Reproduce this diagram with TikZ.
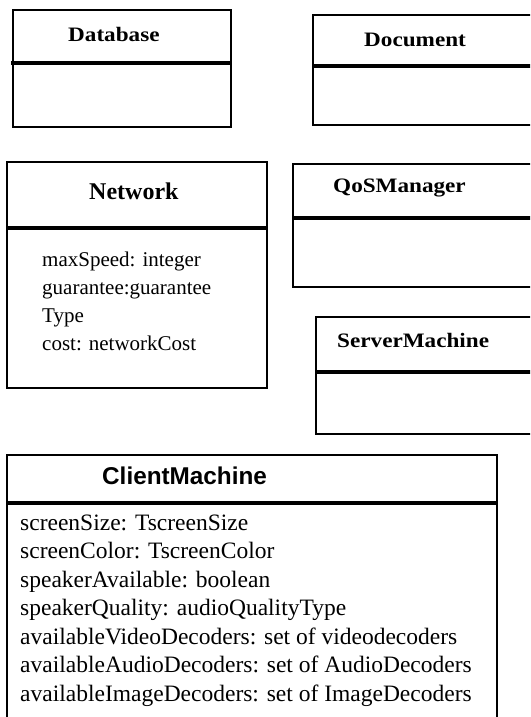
\documentclass[tikz,border=0pt]{standalone}
\usepackage{fontspec}
\setmainfont{Liberation Serif}
\newfontfamily\arialfont{Liberation Sans}
\begin{document}
\begin{tikzpicture}[x=1pt,y=-1pt,
  boxline/.style={line width=2.6pt},
  divline/.style={line width=3.1pt},
  ttl/.style={inner sep=0pt,anchor=base west,font=\fontsize{20.5}{24}\selectfont\bfseries,xscale=1.13},
  ttlbig/.style={inner sep=0pt,anchor=base west,font=\fontsize{24}{28}\selectfont\bfseries},
  attr/.style={inner sep=0pt,anchor=base west,font=\fontsize{21}{25}\selectfont},
  cattr/.style={inner sep=0pt,anchor=base west,font=\fontsize{23.5}{28}\selectfont}]
\useasboundingbox (0,0) rectangle (530,717);
\clip (0,0) rectangle (530,717);
% Database
\draw[boxline] (13,10) rectangle (231,127);
\draw[divline] (11,63) -- (231,63);
\node[ttl] (db) at (68,42) {Database};
% Document
\draw[boxline] (313,15) rectangle (545,125);
\draw[divline] (313,66) -- (545,66);
\node[ttl] (doc) at (364,47) {Document};
% Network
\draw[boxline] (7,162) rectangle (267,388);
\draw[divline] (7,228) -- (267,228);
\node[ttlbig] (net) at (89,199) {Network};
\node[attr] (n1) at (42,266) {maxSpeed: integer};
\node[attr] (n2) at (42,294) {guarantee:guarantee};
\node[attr] (n3) at (42,322) {Type};
\node[attr] (n4) at (42,350) {cost: networkCost};
% QoSManager
\draw[boxline] (293,164) rectangle (545,287);
\draw[divline] (293,218) -- (545,218);
\node[ttl] (qos) at (333,192) {QoSManager};
% ServerMachine
\draw[boxline] (316,317) rectangle (545,434);
\draw[divline] (316,372) -- (545,372);
\node[ttl] (srv) at (337,347) {ServerMachine};
% ClientMachine
\draw[boxline] (7,455) rectangle (497,740);
\draw[divline] (7,503) -- (497,503);
\node[inner sep=0pt,anchor=base west,font=\arialfont\fontsize{24.3}{28}\selectfont\bfseries] (cli) at (102,484) {ClientMachine};
\node[cattr] (c1) at (20,530) {screenSize: TscreenSize};
\node[cattr] (c2) at (20,558.5) {screenColor: TscreenColor};
\node[cattr] (c3) at (20,587) {speakerAvailable: boolean};
\node[cattr] (c4) at (20,615.5) {speakerQuality: audioQualityType};
\node[cattr] (c5) at (20,644) {availableVideoDecoders: set of videodecoders};
\node[cattr] (c6) at (20,672.5) {availableAudioDecoders: set of AudioDecoders};
\node[cattr] (c7) at (20,701) {availableImageDecoders: set of ImageDecoders};
\end{tikzpicture}
\end{document}
